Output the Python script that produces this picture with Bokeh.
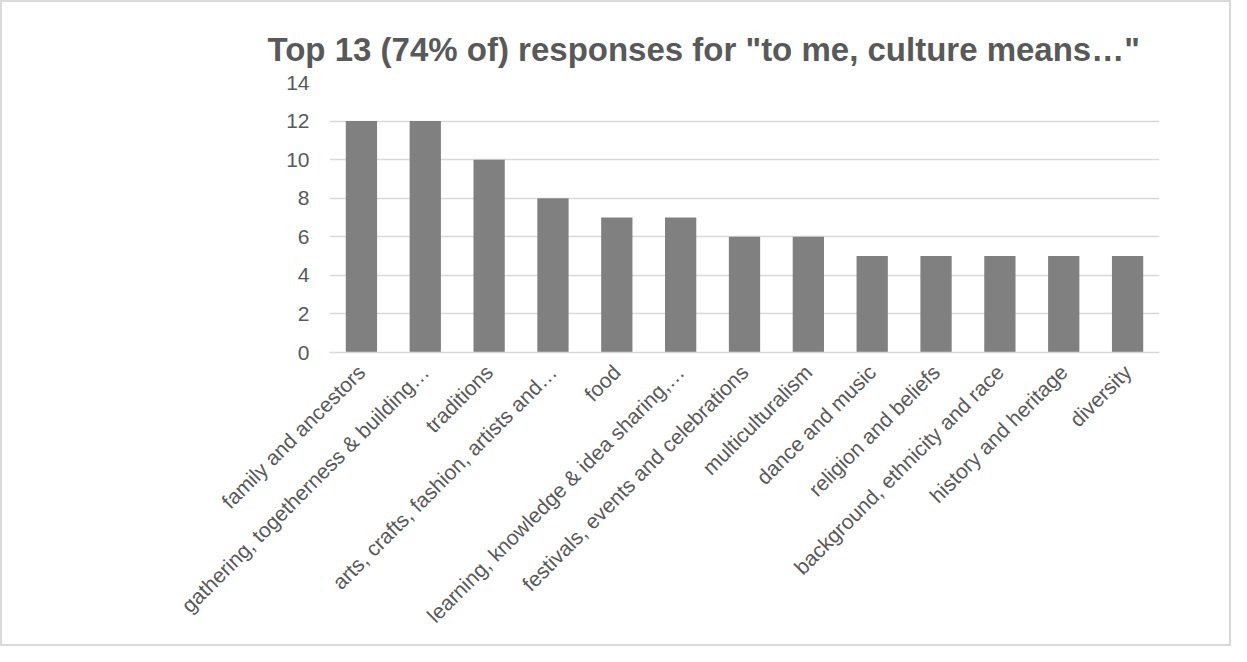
import math
from bokeh.plotting import figure
from bokeh.models import Range1d, FactorRange, FixedTicker
from bokeh.embed import file_html
from bokeh.resources import INLINE

categories = [
    "family and ancestors",
    "gathering, togetherness & building…",
    "traditions",
    "arts, crafts, fashion, artists and…",
    "food",
    "learning, knowledge & idea sharing,…",
    "festivals, events and celebrations",
    "multiculturalism",
    "dance and music",
    "religion and beliefs",
    "background, ethnicity and race",
    "history and heritage",
    "diversity",
]
counts = [12, 12, 10, 8, 7, 7, 6, 6, 5, 5, 5, 5, 5]
y_ticks = [0, 2, 4, 6, 8, 10, 12, 14]
title_text = 'Top 13 (74% of) responses for "to me, culture means…"'

W, H = 1231, 646
p = figure(
    width=W, height=H,
    x_range=FactorRange(factors=categories, range_padding=0),
    y_range=Range1d(0, 14),
    output_backend="svg", toolbar_location=None,
    min_border_left=327, min_border_right=74,
    min_border_top=80, min_border_bottom=296,
    title=title_text,
)
p.styles = {"border": "2px solid #d9d9d9", "box-sizing": "border-box"}
p.outline_line_color = None
p.background_fill_color = "white"
p.border_fill_color = "white"

p.vbar(x=categories, top=counts, width=0.49, fill_color="#808080", line_color=None)

font = "Liberation Sans"
lab_col = "#595959"

p.title.text_font = font
p.title.text_font_size = "33px"
p.title.text_font_style = "bold"
p.title.text_color = lab_col
p.title.align = "left"
p.title.offset = -62
p.title.standoff = 30

p.yaxis.ticker = FixedTicker(ticks=y_ticks)
p.yaxis.axis_line_color = None
p.yaxis.major_tick_line_color = None
p.yaxis.major_tick_out = 0
p.yaxis.major_tick_in = 0
p.yaxis.minor_tick_line_color = None
p.yaxis.major_label_standoff = 20
p.yaxis.major_label_text_font = font
p.yaxis.major_label_text_font_size = "21px"
p.yaxis.major_label_text_color = lab_col

p.xaxis.axis_line_color = "#d9d9d9"
p.xaxis.axis_line_width = 1.5
p.xaxis.major_tick_line_color = None
p.xaxis.major_tick_out = 0
p.xaxis.major_tick_in = 0
p.xaxis.minor_tick_line_color = None
p.xaxis.major_label_orientation = math.pi / 4
p.xaxis.major_label_standoff = 16
p.xaxis.major_label_text_font = font
p.xaxis.major_label_text_font_size = "21px"
p.xaxis.major_label_text_color = lab_col

p.xgrid.grid_line_color = None
p.ygrid.grid_line_color = "#d9d9d9"
p.ygrid.grid_line_width = 1.5

open("out.html", "w").write(file_html(p, INLINE))
